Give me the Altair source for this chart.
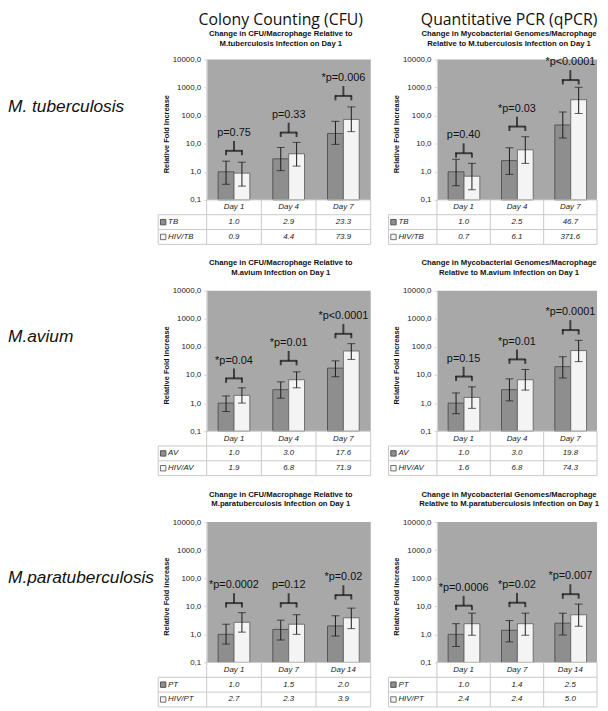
import altair as alt
import pandas as pd

# ------------------------------------------------------------------ data
days_tb = ["Day 1", "Day 4", "Day 7"]
days_av = ["Day 1", "Day 4", "Day 7"]
days_pt = ["Day 1", "Day 7", "Day 14"]

# A: CFU, M. tuberculosis
cfu_tb_names = ["TB", "HIV/TB"]
cfu_tb_ctrl = [1.0, 2.9, 23.3]
cfu_tb_hiv = [0.9, 4.4, 73.9]
cfu_tb_ctrl_lo = [0.36, 1.1, 9.5]
cfu_tb_ctrl_hi = [2.4, 7.4, 63.0]
cfu_tb_hiv_lo = [0.31, 1.6, 27.0]
cfu_tb_hiv_hi = [2.2, 11.2, 206.0]
cfu_tb_bracket = [5.6, 25.0, 505.0]
cfu_tb_p = ["p=0.75", "p=0.33", "*p=0.006"]

# B: qPCR, M. tuberculosis
pcr_tb_names = ["TB", "HIV/TB"]
pcr_tb_ctrl = [1.0, 2.5, 46.7]
pcr_tb_hiv = [0.7, 6.1, 371.6]
pcr_tb_ctrl_lo = [0.32, 0.81, 16.0]
pcr_tb_ctrl_hi = [2.8, 7.2, 136.0]
pcr_tb_hiv_lo = [0.23, 2.0, 120.0]
pcr_tb_hiv_hi = [2.0, 17.8, 1030.0]
pcr_tb_bracket = [4.6, 41.0, 1860.0]
pcr_tb_p = ["p=0.40", "*p=0.03", "*p<0.0001"]

# C: CFU, M. avium
cfu_av_names = ["AV", "HIV/AV"]
cfu_av_ctrl = [1.0, 3.0, 17.6]
cfu_av_hiv = [1.9, 6.8, 71.9]
cfu_av_ctrl_lo = [0.5, 1.5, 8.7]
cfu_av_ctrl_hi = [1.8, 5.7, 32.0]
cfu_av_hiv_lo = [1.0, 3.5, 36.0]
cfu_av_hiv_hi = [3.5, 13.0, 131.0]
cfu_av_bracket = [7.6, 32.0, 293.0]
cfu_av_p = ["*p=0.04", "*p=0.01", "*p<0.0001"]

# D: qPCR, M. avium
pcr_av_names = ["AV", "HIV/AV"]
pcr_av_ctrl = [1.0, 3.0, 19.8]
pcr_av_hiv = [1.6, 6.8, 74.3]
pcr_av_ctrl_lo = [0.42, 1.2, 7.9]
pcr_av_ctrl_hi = [2.3, 7.3, 45.0]
pcr_av_hiv_lo = [0.65, 2.9, 30.0]
pcr_av_hiv_hi = [3.8, 15.8, 172.0]
pcr_av_bracket = [8.8, 36.0, 400.0]
pcr_av_p = ["p=0.15", "*p=0.01", "*p=0.0001"]

# E: CFU, M. paratuberculosis
cfu_pt_names = ["PT", "HIV/PT"]
cfu_pt_ctrl = [1.0, 1.5, 2.0]
cfu_pt_hiv = [2.7, 2.3, 3.9]
cfu_pt_ctrl_lo = [0.45, 0.63, 0.87]
cfu_pt_ctrl_hi = [2.3, 3.2, 4.6]
cfu_pt_hiv_lo = [1.2, 1.0, 1.6]
cfu_pt_hiv_hi = [5.9, 5.0, 8.6]
cfu_pt_bracket = [13.0, 13.0, 25.0]
cfu_pt_p = ["*p=0.0002", "p=0.12", "*p=0.02"]

# F: qPCR, M. paratuberculosis
pcr_pt_names = ["PT", "HIV/PT"]
pcr_pt_ctrl = [1.0, 1.4, 2.5]
pcr_pt_hiv = [2.4, 2.4, 5.0]
pcr_pt_ctrl_lo = [0.37, 0.54, 0.95]
pcr_pt_ctrl_hi = [2.4, 3.1, 5.7]
pcr_pt_hiv_lo = [0.93, 0.93, 1.95]
pcr_pt_hiv_hi = [5.7, 5.7, 12.0]
pcr_pt_bracket = [10.5, 13.4, 27.0]
pcr_pt_p = ["*p=0.0006", "*p=0.02", "*p=0.007"]

y_ticks = [0.1, 1, 10, 100, 1000, 10000]

cfu_line1 = "Change in CFU/Macrophage Relative to"
pcr_line1 = "Change in Mycobacterial Genomes/Macrophage"

# ------------------------------------------------------------------ style
BG = "#a8a8a8"
DARK_FILL, DARK_STROKE = "#8e8e8e", "#555555"
LIGHT_FILL, LIGHT_STROKE = "#f4f4f4", "#6e6e6e"
GRID = "#c9c9c9"
AF = "Liberation Sans"
TABLE_ROW = 15
LABEL_COL = 49


def make_panel(days, names, ctrl, hiv, ctrl_lo, ctrl_hi, hiv_lo, hiv_hi,
               brackets, ptexts, W, H, title, row_label=None, label_y=49):
    grp_dom = ["a", "b"]
    bars_df = pd.DataFrame({
        "day": days * 2,
        "grp": ["a"] * len(days) + ["b"] * len(days),
        "value": ctrl + hiv,
        "lo": ctrl_lo + hiv_lo,
        "hi": ctrl_hi + hiv_hi,
    })
    br_df = pd.DataFrame({"day": days, "level": brackets, "p": ptexts})
    br2_df = pd.DataFrame({"day": days * 2,
                           "grp": ["a"] * len(days) + ["b"] * len(days),
                           "level": brackets * 2})

    xs = alt.Scale(domain=days, paddingInner=0.42, paddingOuter=0.21)
    X = alt.X("day:N", scale=xs, axis=None)
    XO = alt.XOffset("grp:N", scale=alt.Scale(domain=grp_dom, paddingInner=0, paddingOuter=0))
    ys = alt.Scale(type="log", domain=[0.1, 10000], nice=False)
    yaxis = alt.Axis(values=y_ticks,
                     labelExpr="replace(format(datum.value, '.1f'), '.', ',')",
                     labelFont=AF, labelFontSize=8, labelColor="#222222",
                     labelPadding=3, labelFlush=False, labelOverlap=False,
                     tickSize=3, tickColor="#d8d8d8", domainColor="#d8d8d8",
                     grid=False, title="Relative  Fold Increase",
                     titleFont=AF, titleFontSize=7.5, titleFontWeight="bold",
                     titleColor="#111111", titleX=-41, titleY=H / 2 + 4,
                     titleAngle=270, titleBaseline="middle", titleAlign="center")
    fill = alt.Fill("grp:N", scale=alt.Scale(domain=grp_dom, range=[DARK_FILL, LIGHT_FILL]), legend=None)
    stroke = alt.Stroke("grp:N", scale=alt.Scale(domain=grp_dom, range=[DARK_STROKE, LIGHT_STROKE]), legend=None)

    base = alt.Chart(bars_df)
    bars = base.mark_bar(strokeWidth=1).encode(
        x=X, xOffset=XO, y=alt.Y("value:Q", scale=ys, axis=yaxis),
        y2=alt.datum(0.1), fill=fill, stroke=stroke)
    err = base.mark_rule(color="#1a1a1a", strokeWidth=1).encode(
        x=X, xOffset=XO, y=alt.Y("lo:Q", scale=ys), y2="hi:Q")
    cap_lo = base.mark_tick(color="#1a1a1a", thickness=1, size=8, orient="horizontal").encode(
        x=X, xOffset=XO, y=alt.Y("lo:Q", scale=ys))
    cap_hi = base.mark_tick(color="#1a1a1a", thickness=1, size=8, orient="horizontal").encode(
        x=X, xOffset=XO, y=alt.Y("hi:Q", scale=ys))

    bb = alt.Chart(br_df)
    br_h = bb.mark_tick(color="#111111", thickness=2, size=17, orient="horizontal").encode(
        x=X, y=alt.Y("level:Q", scale=ys))
    br_s = bb.mark_tick(color="#111111", thickness=2, size=10, orient="vertical", yOffset=-5).encode(
        x=X, y=alt.Y("level:Q", scale=ys))
    br_t = bb.mark_text(font=AF, fontSize=11, color="#111111", baseline="middle", dy=-18).encode(
        x=X, y=alt.Y("level:Q", scale=ys), text="p:N")
    br_d = alt.Chart(br2_df).mark_tick(color="#111111", thickness=2, size=5, orient="vertical", yOffset=2).encode(
        x=X, xOffset=XO, y=alt.Y("level:Q", scale=ys))

    plot_layers = [bars, err, cap_lo, cap_hi, br_h, br_s, br_d, br_t]
    if row_label is not None:
        lab = alt.Chart(pd.DataFrame({"t": [row_label]})).mark_text(
            font=AF, fontSize=17.5, fontStyle="italic", align="left", baseline="middle",
            color="#111111").encode(x=alt.value(-201), y=alt.value(label_y), text="t:N")
        plot_layers.append(lab)
    plot = alt.layer(*plot_layers)

    # ---------------- table under the plot
    n = len(days)
    lw = LABEL_COL / (W / n)
    cells = []
    for i, d in enumerate(days):
        cells.append({"x": i + 0.5, "y": 0.5, "t": d})
        cells.append({"x": i + 0.5, "y": 1.5, "t": f"{ctrl[i]:.1f}"})
        cells.append({"x": i + 0.5, "y": 2.5, "t": f"{hiv[i]:.1f}"})
    cell_df = pd.DataFrame(cells)
    lab_df = pd.DataFrame({"x": [-lw, -lw], "y": [1.5, 2.5], "t": names, "grp": grp_dom})
    h_df = pd.DataFrame({"y": [0, 1, 2, 3], "x1": [0, -lw, -lw, -lw], "x2": [n] * 4})
    v_df = pd.DataFrame({"x": [-lw] + list(range(n + 1)), "y1": [1] + [0] * (n + 1), "y2": [3] * (n + 2)})

    TX = alt.Scale(domain=[0, n], nice=False, zero=False)
    TY = alt.Scale(domain=[0, 3], range=[H, H + 3 * TABLE_ROW], nice=False, zero=False)
    hl = alt.Chart(h_df).mark_rule(color=GRID, strokeWidth=1).encode(
        x=alt.X("x1:Q", scale=TX, axis=None), x2="x2:Q", y=alt.Y("y:Q", scale=TY, axis=None))
    vl = alt.Chart(v_df).mark_rule(color=GRID, strokeWidth=1).encode(
        x=alt.X("x:Q", scale=TX, axis=None), y=alt.Y("y1:Q", scale=TY, axis=None), y2="y2:Q")
    ct = alt.Chart(cell_df).mark_text(font=AF, fontSize=8, fontStyle="italic", color="#1a1a1a",
                                      baseline="middle").encode(
        x=alt.X("x:Q", scale=TX, axis=None), y=alt.Y("y:Q", scale=TY, axis=None), text="t:N")
    lt = alt.Chart(lab_df).mark_text(font=AF, fontSize=8, fontStyle="italic", color="#1a1a1a",
                                     baseline="middle", align="left", dx=10).encode(
        x=alt.X("x:Q", scale=TX, axis=None), y=alt.Y("y:Q", scale=TY, axis=None), text="t:N")
    sq = alt.Chart(lab_df).mark_square(size=30, opacity=1, strokeWidth=1, xOffset=5).encode(
        x=alt.X("x:Q", scale=TX, axis=None), y=alt.Y("y:Q", scale=TY, axis=None),
        fill=fill, stroke=stroke)
    table = alt.layer(hl, vl, ct, lt, sq)

    return alt.layer(plot, table).resolve_scale(
        x="independent", y="independent").properties(width=W, height=H, title=title)


def head_title(heading, l1, l2):
    return alt.TitleParams(text=heading, subtitle=[l1, l2], anchor="middle", frame="group",
                           dx=-8, offset=8, font="Open Sans", fontSize=16, fontWeight="normal",
                           color="#111111", subtitleFont=AF, subtitleFontSize=7.8,
                           subtitleFontWeight="bold", subtitleColor="#111111",
                           subtitleLineHeight=10, subtitlePadding=2)


def sub_title(l1, l2):
    return alt.TitleParams(text=[l1, l2], anchor="middle", frame="group", dx=-8, offset=10,
                           font=AF, fontSize=7.8, fontWeight="bold", color="#111111", lineHeight=10)


WL, WR, H = 166, 162, 142

pA = make_panel(days_tb, cfu_tb_names, cfu_tb_ctrl, cfu_tb_hiv, cfu_tb_ctrl_lo, cfu_tb_ctrl_hi,
                cfu_tb_hiv_lo, cfu_tb_hiv_hi, cfu_tb_bracket, cfu_tb_p, WL, H,
                head_title("Colony Counting (CFU)", cfu_line1, "M.tuberculosis Infection on Day 1"),
                row_label="M. tuberculosis", label_y=48)
pB = make_panel(days_tb, pcr_tb_names, pcr_tb_ctrl, pcr_tb_hiv, pcr_tb_ctrl_lo, pcr_tb_ctrl_hi,
                pcr_tb_hiv_lo, pcr_tb_hiv_hi, pcr_tb_bracket, pcr_tb_p, WR, H,
                head_title("Quantitative PCR (qPCR)", pcr_line1, "Relative to M.tuberculosis Infection on Day 1"))
pC = make_panel(days_av, cfu_av_names, cfu_av_ctrl, cfu_av_hiv, cfu_av_ctrl_lo, cfu_av_ctrl_hi,
                cfu_av_hiv_lo, cfu_av_hiv_hi, cfu_av_bracket, cfu_av_p, WL, H,
                sub_title(cfu_line1, "M.avium Infection on Day 1"),
                row_label="M.avium", label_y=47)
pD = make_panel(days_av, pcr_av_names, pcr_av_ctrl, pcr_av_hiv, pcr_av_ctrl_lo, pcr_av_ctrl_hi,
                pcr_av_hiv_lo, pcr_av_hiv_hi, pcr_av_bracket, pcr_av_p, WR, H,
                sub_title(pcr_line1, "Relative to M.avium Infection on Day 1"))
pE = make_panel(days_pt, cfu_pt_names, cfu_pt_ctrl, cfu_pt_hiv, cfu_pt_ctrl_lo, cfu_pt_ctrl_hi,
                cfu_pt_hiv_lo, cfu_pt_hiv_hi, cfu_pt_bracket, cfu_pt_p, WL, H,
                sub_title(cfu_line1, "M.paratuberculosis Infection on Day 1"),
                row_label="M.paratuberculosis", label_y=57)
pF = make_panel(days_pt, pcr_pt_names, pcr_pt_ctrl, pcr_pt_hiv, pcr_pt_ctrl_lo, pcr_pt_ctrl_hi,
                pcr_pt_hiv_lo, pcr_pt_hiv_hi, pcr_pt_bracket, pcr_pt_p, WR, H,
                sub_title(pcr_line1, "Relative to M.paratuberculosis Infection on Day 1"))

SP = 16
row1 = alt.hconcat(pA, pB, spacing=SP)
row2 = alt.hconcat(pC, pD, spacing=SP)
row3 = alt.hconcat(pE, pF, spacing=SP)

chart = alt.vconcat(row1, row2, row3, spacing=14).properties(
    padding=0, background="white").configure_view(fill=BG, stroke=None)

chart.save("out.html", embed_options={"renderer": "svg", "actions": False})
